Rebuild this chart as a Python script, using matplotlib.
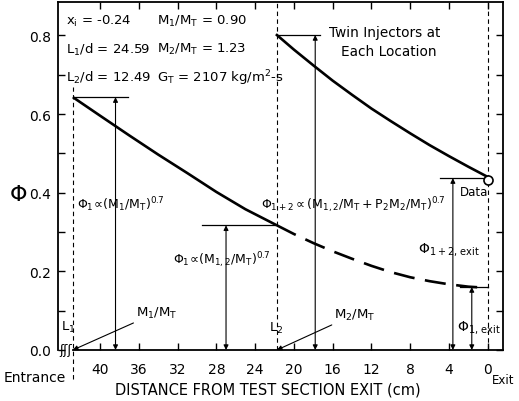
import numpy as np
import matplotlib
matplotlib.use("Agg")
import matplotlib.pyplot as plt

plt.rcParams['font.family'] = ['DejaVu Sans']
plt.rcParams['mathtext.default'] = 'regular'

# injector locations (cm from exit)
L1 = 42.8
L2 = 21.75

# solid curve, first injector only
d1 = [42.8, 40, 37, 34, 31, 28, 25, 21.75]
phi1 = [0.643, 0.596, 0.546, 0.497, 0.450, 0.402, 0.358, 0.317]

# solid curve, both injectors
d12 = [21.75, 20, 18, 16, 14, 12, 10, 8, 6, 4, 2, 0]
phi12 = [0.801, 0.764, 0.724, 0.685, 0.649, 0.614, 0.582, 0.551, 0.521, 0.493, 0.466, 0.440]

# dashed continuation of first injector
d1b = [21.75, 20, 18, 16, 14, 12, 10, 8, 6, 4, 2, 0]
phi1b = [0.317, 0.295, 0.272, 0.251, 0.232, 0.214, 0.198, 0.185, 0.175, 0.167, 0.161, 0.158]

# measured point at exit
d_data = [0.0]
phi_data = [0.432]

xticks = [40, 36, 32, 28, 24, 20, 16, 12, 8, 4, 0]
yticks = [0.0, 0.2, 0.4, 0.6, 0.8]

fig = plt.figure(figsize=(5.19, 4.02), dpi=100)
ax = fig.add_axes([0.1118, 0.1269, 0.857, 0.8656])
ax.set_xlim(44.33, -1.55)
ax.set_ylim(0, 0.885)

ax.plot(d1, phi1, color='black', lw=1.9, solid_capstyle='butt')
ax.plot(d12, phi12, color='black', lw=1.9)
ax.plot(d1b, phi1b, color='black', lw=1.9, dashes=(8, 4))
ax.plot(d_data, phi_data, 'o', mfc='white', mec='black', ms=6.5, mew=1.2, zorder=5)

# vertical reference lines
vd = dict(color='black', lw=0.8, dashes=(4, 3))
ax.plot([L1, L1], [-0.075, 0.67], clip_on=False, **vd)
ax.plot([L2, L2], [0, 0.885], **vd)
ax.plot([0, 0], [0, 0.885], **vd)

# horizontal marks
hk = dict(color='black', lw=0.9)
ax.plot([L1, 37.1], [0.643, 0.643], **hk)
ax.plot([29.5, L2], [0.317, 0.317], **hk)
ax.plot([L2, 17.3], [0.801, 0.801], **hk)
ax.plot([4.9, 0], [0.437, 0.437], **hk)
ax.plot([2.9, 0], [0.16, 0.16], **hk)

ap = dict(arrowstyle='<|-|>', lw=0.8, color='black', mutation_scale=7,
          shrinkA=0, shrinkB=0)
for xd, top in [(38.4, 0.643), (27.0, 0.317), (17.8, 0.801), (3.6, 0.437), (1.65, 0.16)]:
    ax.annotate('', xy=(xd, 0), xytext=(xd, top), arrowprops=ap)

lp = dict(arrowstyle='-|>', lw=0.8, color='black', mutation_scale=7,
          shrinkA=0, shrinkB=0)
ax.annotate('$M_1/M_T$', xy=(L1, 0), xytext=(36.3, 0.095), fontsize=9.5,
            va='center', ha='left', arrowprops=lp)
ax.annotate('$M_2/M_T$', xy=(L2, 0), xytext=(15.9, 0.09), fontsize=9.5,
            va='center', ha='left', arrowprops=lp)
ax.text(43.3, 0.06, '$L_1$', fontsize=9.5, ha='center', va='center')
ax.text(21.8, 0.058, '$L_2$', fontsize=9.5, ha='center', va='center')

fs = 9.5
ax.text(43.5, 0.837, '$x_i$ = -0.24', fontsize=fs, va='center')
ax.text(34.1, 0.837, '$M_1/M_T$ = 0.90', fontsize=fs, va='center')
ax.text(43.5, 0.766, '$L_1/d$ = 24.59', fontsize=fs, va='center')
ax.text(34.1, 0.766, '$M_2/M_T$ = 1.23', fontsize=fs, va='center')
ax.text(43.5, 0.695, '$L_2/d$ = 12.49', fontsize=fs, va='center')
ax.text(34.1, 0.695, '$G_T$ = 2107 kg/m$^2$-s', fontsize=fs, va='center')
ax.text(10.6, 0.809, 'Twin Injectors at', fontsize=9.8, ha='center', va='center')
ax.text(10.2, 0.761, 'Each Location', fontsize=9.8, ha='center', va='center')

ax.text(42.4, 0.371, r'$\Phi_1\!\propto\!(M_1/M_T)^{0.7}$', fontsize=9, va='center')
ax.text(32.5, 0.232, r'$\Phi_1\!\propto\!(M_{1,2}/M_T)^{0.7}$', fontsize=9, va='center')
ax.text(23.4, 0.371, r'$\Phi_{1+2}\propto(M_{1,2}/M_T+P_2M_2/M_T)^{0.7}$', fontsize=9,
        va='center')
ax.text(1.45, 0.402, 'Data', fontsize=8.5, ha='center', va='center')
ax.text(7.2, 0.257, r'$\Phi_{1+2,\,exit}$', fontsize=10, va='center')
ax.text(3.2, 0.061, r'$\Phi_{1,\,exit}$', fontsize=10, va='center')

# axis break marks
ax.text(42.9, 0.0, 'ʃʃʃ', fontsize=9, ha='right', va='center', clip_on=False)

ax.set_xticks(xticks)
ax.set_xticklabels([str(t) for t in xticks], fontsize=10)
ax.set_yticks(yticks)
ax.set_yticklabels(['%.1f' % t for t in yticks], fontsize=10)
ax.set_yticks(np.arange(0.1, 0.85, 0.2), minor=True)
ax.tick_params(axis='x', direction='in', length=5, width=1, top=True, pad=9)
ax.tick_params(axis='y', direction='in', length=5, width=1, right=True, pad=5)
ax.tick_params(which='minor', direction='in', length=5, width=1, right=True)
for s in ax.spines.values():
    s.set_linewidth(1.3)
ax.spines['bottom'].set_bounds(-1.55, L1)

fig.text(18 / 519, 1 - 195 / 402, r'$\Phi$', fontsize=16, ha='center', va='center')
fig.text(35 / 519, 1 - 378 / 402, 'Entrance', fontsize=10, ha='center', va='center')
fig.text(492 / 519, 1 - 381 / 402, 'Exit', fontsize=8.5, ha='left', va='center')
fig.text(268 / 519, 1 - 390 / 402, 'DISTANCE FROM TEST SECTION EXIT (cm)', fontsize=10.5,
         ha='center', va='center')

fig.savefig('out.png', dpi=100)
